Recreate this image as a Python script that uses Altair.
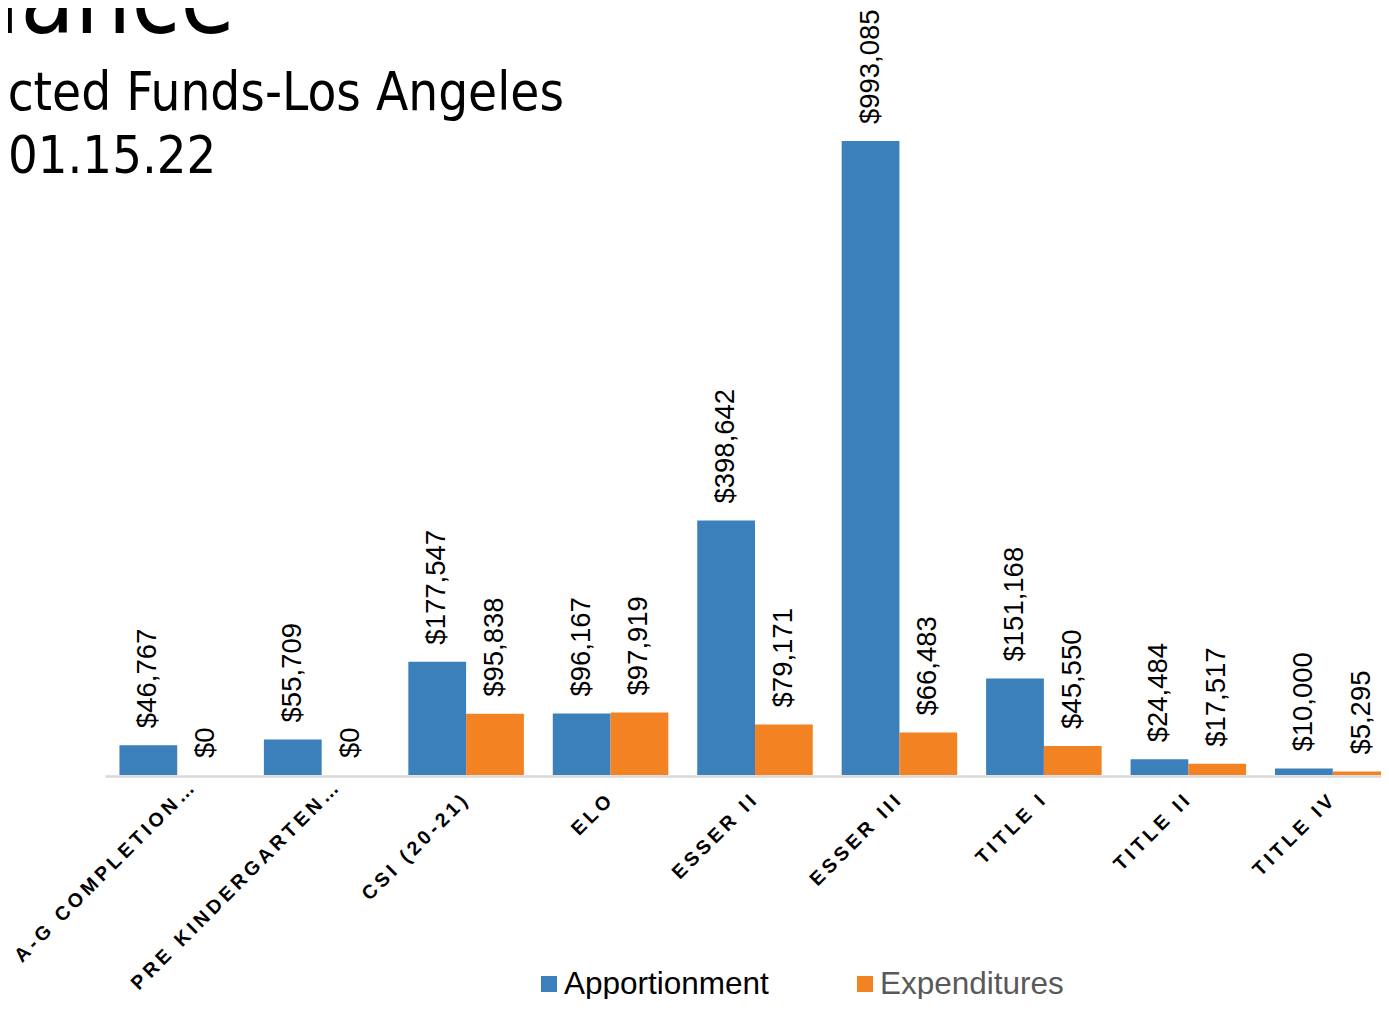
import altair as alt
import pandas as pd

CATEGORIES = ["A-G COMPLETION…", "PRE KINDERGARTEN…", "CSI (20-21)", "ELO", "ESSER II",
              "ESSER III", "TITLE I", "TITLE II", "TITLE IV"]
APPORTIONMENT = [46767, 55709, 177547, 96167, 398642, 993085, 151168, 24484, 10000]
EXPENDITURES = [0, 0, 95838, 97919, 79171, 66483, 45550, 17517, 5295]
SERIES = ["Apportionment", "Expenditures"]
COLORS = ["#3b80ba", "#f38223"]
TITLE_LINES = ["iance", "icted Funds-Los Angeles", "01.15.22"]

rows = []
for c, a, e in zip(CATEGORIES, APPORTIONMENT, EXPENDITURES):
    rows.append({"category": c, "series": SERIES[0], "value": a})
    rows.append({"category": c, "series": SERIES[1], "value": e})
df = pd.DataFrame(rows)

color_scale = alt.Scale(domain=SERIES, range=COLORS)

x_axis = alt.Axis(
    title=None, labelAngle=-45, labelAlign="right", labelBaseline="middle",
    labelFont="Liberation Sans", labelFontWeight="bold", labelFontSize=19.5,
    labelColor="#000000", ticks=False, tickSize=0, domainColor="#d9d9d9",
    domainWidth=2.5, offset=1, labelLimit=0, labelOverlap=False,
    labelExpr="join(split(datum.label, ''), '\u2009')",
    labelOffset={"condition": {"test": "indexof(datum.value, '…') >= 0", "value": 14}, "value": -2},
    labelPadding={"condition": {"test": "indexof(datum.value, '…') >= 0", "value": 9}, "value": 22},
)

x_enc = alt.X("category:N", sort=CATEGORIES, axis=x_axis,
              scale=alt.Scale(domain=CATEGORIES, range=[0, 1300], paddingInner=0.2, paddingOuter=0.1))
xo_enc = alt.XOffset("series:N", sort=SERIES, scale=alt.Scale(domain=SERIES, paddingInner=0, paddingOuter=0))
y_enc = alt.Y("value:Q", scale=alt.Scale(domain=[0, 1200000]), axis=None)

base = alt.Chart(df).encode(x=x_enc, xOffset=xo_enc, y=y_enc)

bars = base.mark_bar().encode(
    color=alt.Color("series:N", scale=color_scale, legend=None)
)

labels = base.transform_calculate(
    label="'$' + format(datum.value, ',')"
).mark_text(angle=270, align="left", baseline="middle", dx=17,
            font="Liberation Sans", fontSize=27.5, color="#000000").encode(text="label:N")

TFONT = "DejaVu Sans Condensed"
t1 = alt.Chart(pd.DataFrame({"t": [TITLE_LINES[0]]})).mark_text(
    align="right", baseline="alphabetic", font=TFONT, fontSize=99, color="#000000"
).encode(text="t:N", x=alt.value(130), y=alt.value(24))
t2 = alt.Chart(pd.DataFrame({"t": [TITLE_LINES[1]]})).mark_text(
    align="right", baseline="alphabetic", font=TFONT, fontSize=52.5, color="#000000"
).encode(text="t:N", x=alt.value(459), y=alt.value(101))
t3 = alt.Chart(pd.DataFrame({"t": [TITLE_LINES[2]]})).mark_text(
    align="left", baseline="alphabetic", font=TFONT, fontSize=52, color="#000000"
).encode(text="t:N", x=alt.value(-97), y=alt.value(164))

leg_layers = []
LEG_SQ_X = [444, 760]
LEG_TX_X = [459, 775]
LEG_TX_COL = ["#000000", "#595959"]
for i, s in enumerate(SERIES):
    d = pd.DataFrame({"series": [s]})
    leg_layers.append(alt.Chart(d).mark_square(size=256, opacity=1).encode(
        color=alt.Color("series:N", scale=color_scale, legend=None),
        x=alt.value(LEG_SQ_X[i]), y=alt.value(975)))
    leg_layers.append(alt.Chart(d).mark_text(
        align="left", baseline="alphabetic", font="Liberation Sans", fontSize=31.5,
        color=LEG_TX_COL[i]).encode(text="series:N", x=alt.value(LEG_TX_X[i]), y=alt.value(985)))

chart = alt.layer(bars, labels, t1, t2, t3, *leg_layers).properties(
    width=1276, height=766,
    autosize=alt.AutoSizeParams(type="none"),
    padding={"left": 97, "top": 1, "right": 0, "bottom": 224},
).configure_view(strokeWidth=0)

chart.save("out.html", embed_options={"renderer": "svg", "actions": False})
